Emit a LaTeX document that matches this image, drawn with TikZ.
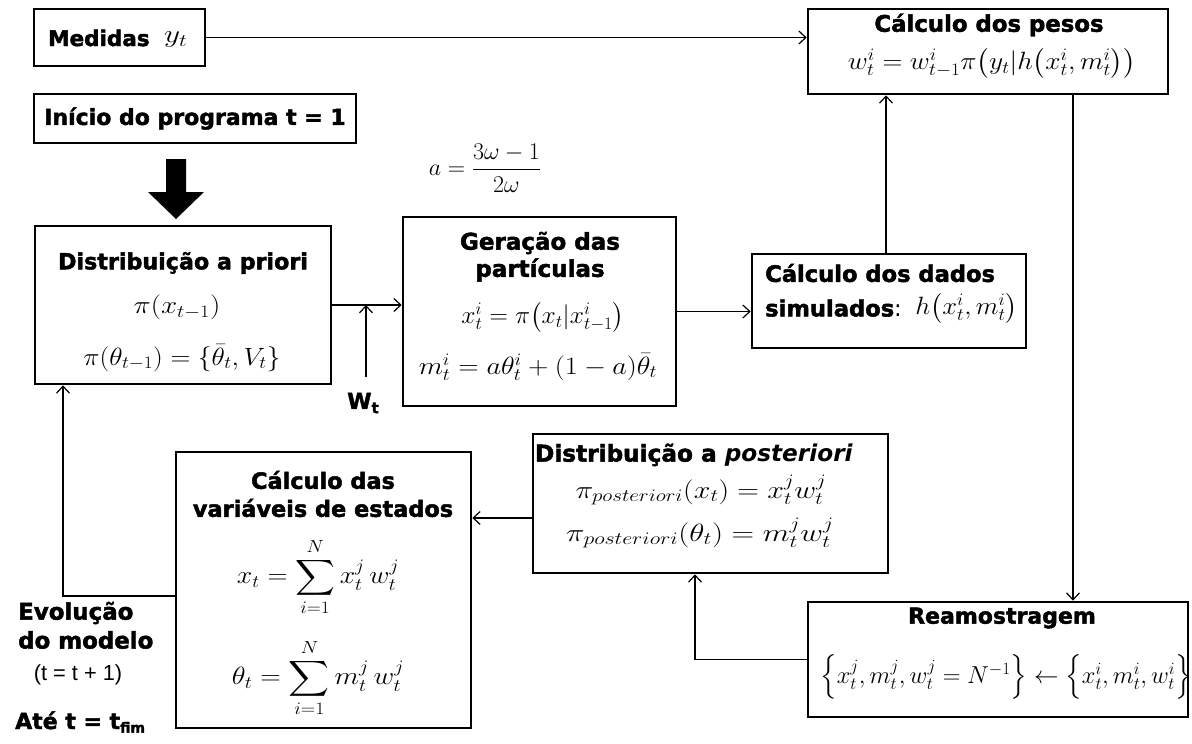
\RequirePackage{fix-cm}
\documentclass[tikz,border=0pt]{standalone}
\usepackage[no-math]{fontspec}
\usepackage{amsmath}
\usepackage{graphicx}
\setmainfont{DejaVu Sans}[BoldFeatures={FakeBold=2}]
\newfontfamily\arialf{Liberation Sans}
\usetikzlibrary{arrows.meta,calc}
\newcommand{\fm}[2]{\scalebox{#1}[1]{$#2$}}
\tikzset{
  box/.style={draw, line width=2.6pt, rectangle, inner sep=0pt},
  conn/.style={line width=1.3pt, -{Straight Barb[length=7pt,width=13pt,line width=1.2pt]}},
  ttl/.style={font=\fontsize{22.4}{26}\selectfont\bfseries, inner sep=0pt},
  mth/.style={font=\fontsize{25}{30}\selectfont, inner sep=0pt},
  nrm/.style={font=\arialf\fontsize{21.8}{25}\selectfont, inner sep=0pt},
}
\begin{document}
\begin{tikzpicture}[x=1pt,y=-1pt]
\useasboundingbox (0,0) rectangle (1192,744);
% boxes
\node[box, minimum width=171pt, minimum height=57pt] (med) at (119.5,37.5) {};
\node[box, minimum width=360pt, minimum height=85pt] (pesos) at (988,51.5) {};
\node[box, minimum width=322pt, minimum height=49pt] (inicio) at (195,118.5) {};
\node[box, minimum width=296pt, minimum height=158pt] (priori) at (183,305) {};
\node[box, minimum width=273pt, minimum height=189pt] (geracao) at (539.5,311.5) {};
\node[box, minimum width=274pt, minimum height=94pt] (dados) at (889,301) {};
\node[box, minimum width=380pt, minimum height=115pt] (reamo) at (998,659.5) {};
\node[box, minimum width=355pt, minimum height=139pt] (post) at (710.5,503.5) {};
\node[box, minimum width=295pt, minimum height=276pt] (var) at (323.5,590) {};

% texts
\node[ttl, anchor=west, font=\fontsize{21.5}{25}\selectfont\bfseries] (medT) at (48,38) {Medidas};
\node[mth, anchor=west] (medF) at (164,40) {\fm{1.25}{y_t}};
\node[ttl, font=\fontsize{22.8}{27}\selectfont\bfseries] (pesosT) at (989,25) {Cálculo dos pesos};
\node[mth] (pesosF) at (992,63) {\fm{1.1}{w_t^i = w_{t-1}^i\pi\bigl(y_t|h\bigl(x_t^i,m_t^i\bigr)\bigr)}};
\node[ttl, font=\fontsize{22}{26}\selectfont\bfseries] (inicioT) at (195,118.5) {Início do programa t = 1};
\node[ttl, font=\fontsize{22.2}{26}\selectfont\bfseries] (prioriT) at (183,263) {Distribuição a priori};
\node[mth] (prioriF1) at (177,307) {\fm{1.16}{\pi(x_{t-1})}};
\node[mth] (prioriF2) at (182,358) {\fm{1.1}{\pi(\theta_{t-1})=\{\bar\theta_t,V_t\}}};
\node[mth, font=\fontsize{24}{28}\selectfont] (aF) at (485,168) {$a=\dfrac{3\omega-1}{2\omega}$};
\node[ttl, font=\fontsize{23}{27}\selectfont\bfseries] (geracaoT1) at (540,243) {Geração das};
\node[ttl, font=\fontsize{23}{27}\selectfont\bfseries] (geracaoT2) at (540,270) {partículas};
\node[mth] (geracaoF1) at (543,317) {\fm{1.02}{x_t^i=\pi\bigl(x_t|x_{t-1}^i\bigr)}};
\node[mth] (geracaoF2) at (538,367) {\fm{1.13}{m_t^i=a\theta_t^i+(1-a)\bar\theta_t}};
\node[ttl, anchor=west, font=\fontsize{22.6}{27}\selectfont\bfseries] (dadosT1) at (765,273) {Cálculo dos dados};
\node[ttl, anchor=west, font=\fontsize{22.6}{27}\selectfont\bfseries] (dadosT2) at (765,308) {simulados\mdseries:};
\node[mth, anchor=east] (dadosF) at (1018,308) {\fm{1.06}{h\bigl(x_t^i,m_t^i\bigr)}};
\node[ttl, font=\fontsize{22}{26}\selectfont\bfseries] (reamoT) at (1002,618) {Reamostragem};
\node[mth, font=\fontsize{24.5}{29}\selectfont] (reamoF) at (1006,677) {$\Bigl\{x_t^j,m_t^j,w_t^j=N^{-1}\Bigr\}\leftarrow\Bigl\{x_t^i,m_t^i,w_t^i\Bigr\}$};
\node[ttl, font=\fontsize{23.2}{27}\selectfont\bfseries] (postT) at (694,455) {Distribuição a \textit{posteriori}};
\node[mth] (postF1) at (701,490) {\fm{1.2}{\pi_{posteriori}(x_t)=x_t^jw_t^j}};
\node[mth] (postF2) at (700,533) {\fm{1.25}{\pi_{posteriori}(\theta_t)=m_t^jw_t^j}};
\node[ttl] (varT1) at (323,480) {Cálculo das};
\node[ttl] (varT2) at (323,508) {variáveis de estados};
\node[mth] (varF1) at (318,577) {\fm{1.11}{\displaystyle x_t=\sum_{i=1}^N x_t^j\,w_t^j}};
\node[mth] (varF2) at (318,678) {\fm{1.14}{\displaystyle \theta_t=\sum_{i=1}^N m_t^j\,w_t^j}};
\node[ttl, anchor=west, font=\fontsize{22.9}{27}\selectfont\bfseries] (evo1) at (18,613) {Evolução};
\node[ttl, anchor=west, font=\fontsize{22.9}{27}\selectfont\bfseries] (evo2) at (18,640) {do modelo};
\node[nrm] (evo3) at (78,675) {(t = t + 1)};
\node[ttl, anchor=west, font=\fontsize{22}{26}\selectfont\bfseries] (evo4) at (15,722) {Até t = t\raisebox{-0.3ex}{\fontsize{14}{16}\selectfont fim}};
\node[ttl, font=\fontsize{22}{26}\selectfont\bfseries] (wt) at (363,403) {W\raisebox{-0.35ex}{\fontsize{15}{17}\selectfont t}};

% thick arrow
\fill (166,159) -- (186,159) -- (186,192) -- (204,192) -- (176,219) -- (148,192) -- (166,192) -- cycle;

% connectors
\draw[conn] (med.east) -- (med.east -| pesos.west);
\draw[conn] (priori.east) -- (priori.east -| geracao.west);
\coordinate (wtc) at (366,377);
\draw[conn] (wtc) -- (wtc |- priori.east);
\draw[conn] (geracao.east) -- (geracao.east -| dados.west);
\draw[conn] ([xshift=-3pt]dados.north) -- ([xshift=-3pt]dados.north |- pesos.south);
\draw[conn] ([xshift=85pt]pesos.south) -- ([xshift=85pt]pesos.south |- reamo.north);
\draw[conn] (reamo.west) -| ([xshift=-15.5pt]post.south);
\draw[conn] ([yshift=-14.5pt]post.west) -- ([yshift=-14.5pt]post.west -| var.east);
\draw[conn] ([yshift=-6pt]var.west) -| ([xshift=-120pt]priori.south);
\end{tikzpicture}
\end{document}
